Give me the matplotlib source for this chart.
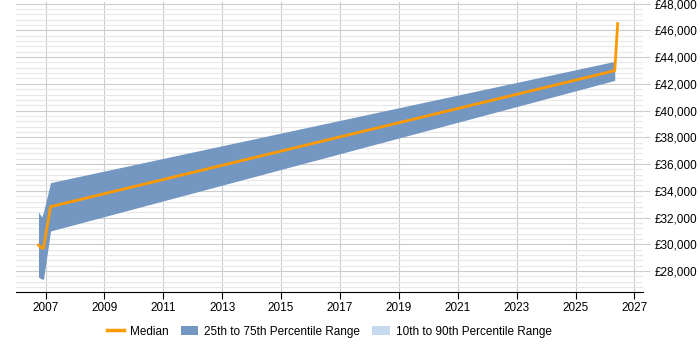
import numpy as np
import matplotlib.pyplot as plt
from matplotlib.patches import Patch
from matplotlib.lines import Line2D
from matplotlib.ticker import MultipleLocator, FuncFormatter

plt.rcParams['font.family'] = ['Liberation Sans', 'DejaVu Sans']

# band (25th-75th percentile)
band_years = [2006.76, 2006.87, 2006.93, 2007.17, 2026.33]
band_p75 = [32420, 32045, 32420, 34614, 43678]
band_p25 = [27550, 27400, 27400, 31000, 42255]

# median
median_years = [2006.76, 2006.87, 2006.93, 2007.17, 2026.33, 2026.43]
median_vals = [29950, 29720, 29720, 32816, 42981, 46500]

x_ticks = list(range(2007, 2028, 2))

fig = plt.figure(figsize=(7, 3.5), dpi=100)
ax = fig.add_axes([0.023, 0.165, 0.896, 0.828])

ax.fill_between(band_years, band_p25, band_p75, color='#7397c1', linewidth=0, zorder=2)
ax.plot(median_years, median_vals, color='#ff9900', linewidth=2, zorder=3)

ax.set_xlim(2006.0, 2027.3)
ax.set_ylim(26420, 48080)
ax.set_xticks(x_ticks)
ax.yaxis.set_major_locator(MultipleLocator(2000))
ax.yaxis.set_minor_locator(MultipleLocator(400))
ax.yaxis.set_major_formatter(FuncFormatter(lambda v, p: f'£{int(v):,}'))
ax.yaxis.tick_right()

ax.grid(axis='y', which='major', color='#cccccc', linewidth=0.8, zorder=0)
ax.grid(axis='y', which='minor', color='#e8e8e8', linewidth=0.8, zorder=0)
ax.grid(axis='x', which='major', color='#cccccc', linewidth=0.8, zorder=0)
ax.set_axisbelow(True)

for side in ('top', 'left', 'right'):
    ax.spines[side].set_visible(False)
ax.spines['bottom'].set_color('#000000')
ax.tick_params(axis='x', length=5, color='#000000', labelsize=8.5, pad=2)
ax.tick_params(axis='y', which='major', length=5, color='#cccccc', labelsize=8.5, pad=3)
ax.tick_params(axis='y', which='minor', length=0)

handles = [
    Line2D([0], [0], color='#ff9900', linewidth=2.5),
    Patch(facecolor='#7397c1', edgecolor='none'),
    Patch(facecolor='#c6d9ee', edgecolor='none'),
]
labels = ['Median', '25th to 75th Percentile Range', '10th to 90th Percentile Range']
fig.legend(handles, labels, loc='lower center', bbox_to_anchor=(0.47, 0.005), ncol=3,
           frameon=False, fontsize=8.5, handlelength=1.5, columnspacing=1.0, handletextpad=0.5)

fig.savefig('out.png', dpi=100)
